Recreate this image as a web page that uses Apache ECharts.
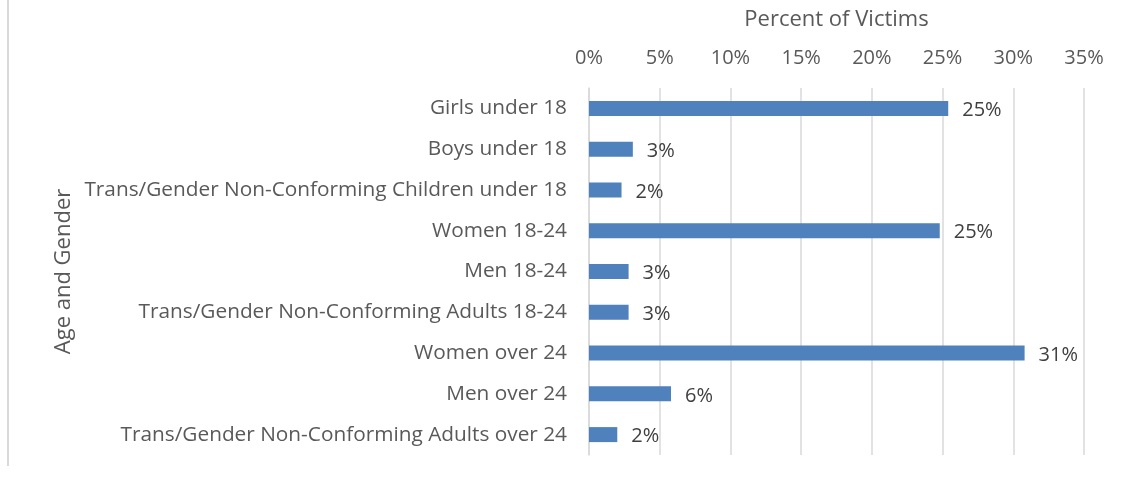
<!DOCTYPE html>
<html>
<head>
<meta charset="utf-8">
<script src="https://cdn.jsdelivr.net/npm/echarts@6/dist/echarts.min.js"></script>
<style>
html,body{margin:0;padding:0;background:#fff;}
#chart{width:1125px;height:483px;}
</style>
</head>
<body>
<div id="chart"></div>
<script>
const categories = [
  "Girls under 18",
  "Boys under 18",
  "Trans/Gender Non-Conforming Children under 18",
  "Women 18-24",
  "Men 18-24",
  "Trans/Gender Non-Conforming Adults 18-24",
  "Women over 24",
  "Men over 24",
  "Trans/Gender Non-Conforming Adults over 24"
];
const percentValues = [25.4, 3.1, 2.3, 24.8, 2.8, 2.8, 30.8, 5.8, 2.0];
const tickValues = [0, 5, 10, 15, 20, 25, 30, 35];

const FONT = '"Open Sans", "Liberation Sans", sans-serif';
const chart = echarts.init(document.getElementById('chart'));
chart.setOption({
  backgroundColor: '#ffffff',
  animation: false,
  grid: { left: 589, right: 41, top: 88, bottom: 28, containLabel: false, outerBoundsMode: 'none' },
  graphic: [{
    type: 'line',
    shape: { x1: 8, y1: 0, x2: 8, y2: 466 },
    style: { stroke: '#d9d9d9', lineWidth: 2 }
  }],
  xAxis: {
    type: 'value',
    position: 'top',
    min: tickValues[0],
    max: tickValues[tickValues.length - 1],
    interval: 5,
    name: 'Percent of Victims',
    nameLocation: 'middle',
    nameGap: 57,
    nameTextStyle: { fontFamily: FONT, fontSize: 22, color: '#595959' },
    axisLine: { show: false },
    axisTick: { show: false },
    axisLabel: { formatter: '{value}%', fontFamily: FONT, fontSize: 20, color: '#595959', margin: 20 },
    splitLine: { show: true, lineStyle: { color: '#d9d9d9', width: 1.5 } }
  },
  yAxis: {
    type: 'category',
    inverse: true,
    data: categories,
    name: 'Age and Gender',
    nameLocation: 'middle',
    nameGap: 514,
    nameRotate: 90,
    nameTextStyle: { fontFamily: FONT, fontSize: 22, color: '#595959' },
    axisLine: { show: true, lineStyle: { color: '#d9d9d9', width: 1.5 } },
    axisTick: { show: false },
    axisLabel: { fontFamily: FONT, fontSize: 20.8, color: '#595959', margin: 22 }
  },
  series: [{
    type: 'bar',
    data: percentValues,
    barWidth: 15,
    itemStyle: { color: '#4f81bd' },
    label: {
      show: true,
      position: 'right',
      distance: 14,
      formatter: p => Math.round(p.value) + '%',
      fontFamily: FONT,
      fontSize: 20,
      color: '#404040',
      offset: [0, 2]
    }
  }]
});
</script>
</body>
</html>
